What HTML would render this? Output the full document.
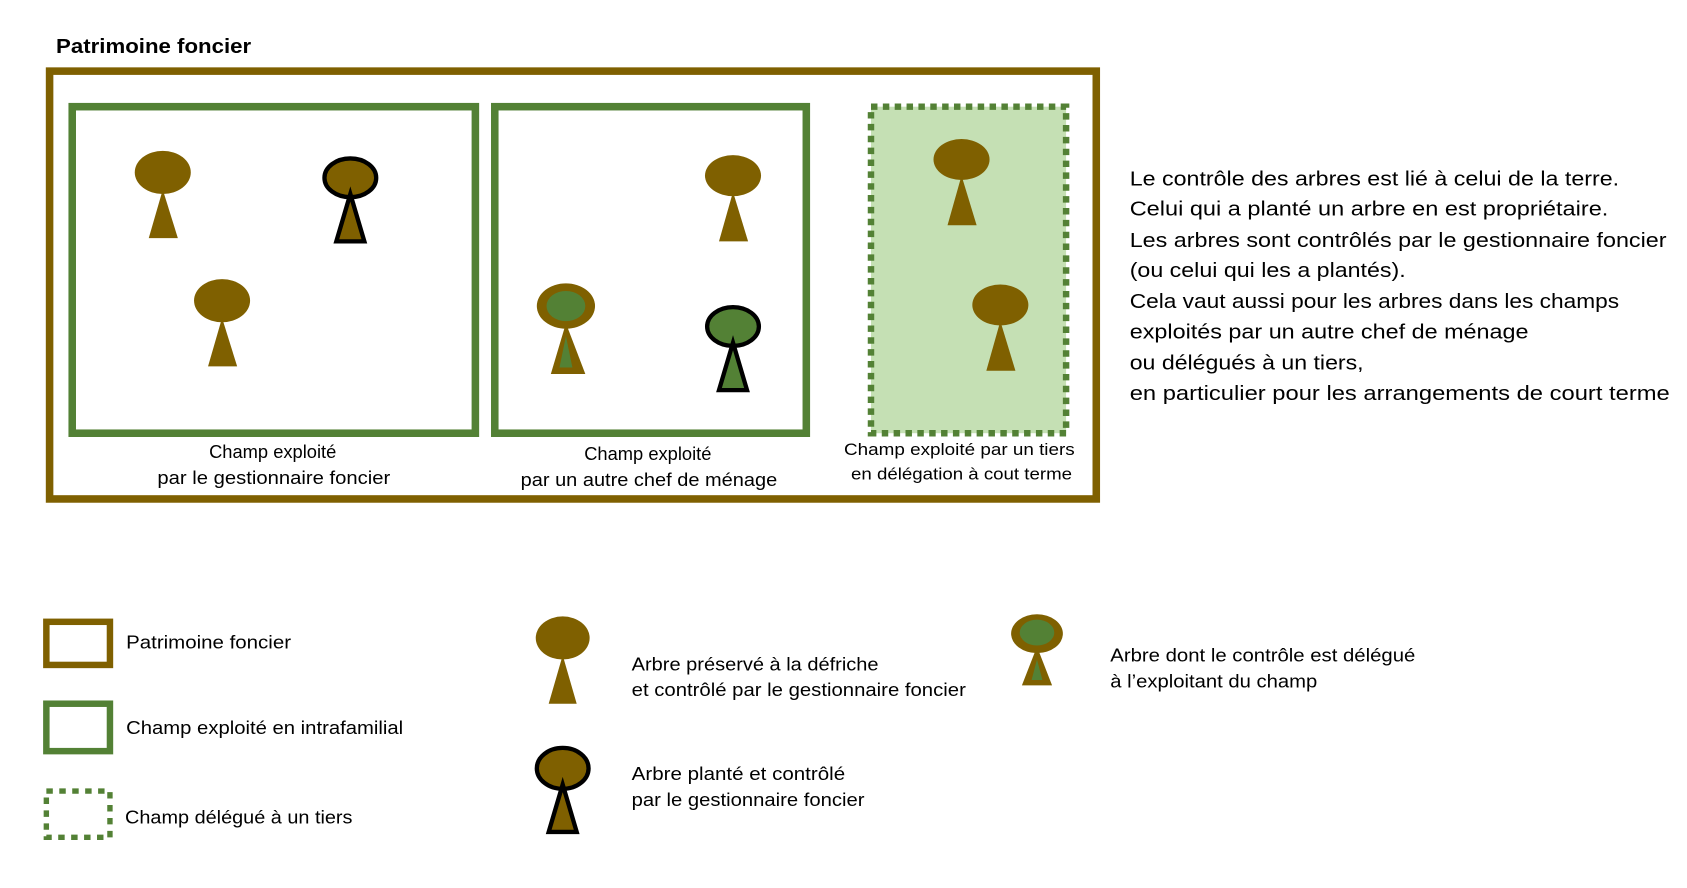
<!DOCTYPE html>
<html><head><meta charset="utf-8"><style>
html,body{margin:0;padding:0;background:#fff;}
svg{display:block;}
text{font-family:"Liberation Sans",sans-serif;fill:#000;}
</style></head><body>
<svg width="1687" height="888" viewBox="0 0 1565 824" preserveAspectRatio="none" xmlns="http://www.w3.org/2000/svg">
<text x="52" y="49" font-size="19" font-weight="bold" textLength="181" lengthAdjust="spacingAndGlyphs">Patrimoine foncier</text>
<rect x="46" y="66" width="971" height="397" fill="none" stroke="#7f6000" stroke-width="7"/>
<rect x="67" y="99" width="374" height="303" fill="none" stroke="#538135" stroke-width="7"/>
<rect x="459" y="99" width="289" height="303" fill="none" stroke="#538135" stroke-width="7"/>
<rect x="808" y="99" width="181" height="303" fill="#c5e0b4" stroke="#538135" stroke-width="6" stroke-dasharray="6,5"/>
<g font-size="17" text-anchor="middle">
<text x="253" y="425">Champ exploité</text>
<text x="254" y="449" textLength="216" lengthAdjust="spacingAndGlyphs">par le gestionnaire foncier</text>
<text x="601" y="427">Champ exploité</text>
<text x="602" y="451" textLength="238" lengthAdjust="spacingAndGlyphs">par un autre chef de ménage</text>
</g>
<g font-size="15.5" text-anchor="middle">
<text x="890" y="422" textLength="214" lengthAdjust="spacingAndGlyphs">Champ exploité  par un tiers</text>
<text x="892" y="445" textLength="205" lengthAdjust="spacingAndGlyphs">en délégation à cout terme</text>
</g>
<g fill="#7f6000">
<!-- plain trees -->
<ellipse cx="151" cy="160" rx="26" ry="20"/><polygon points="151,176 138,221 165,221"/>
<ellipse cx="206" cy="279" rx="26" ry="20"/><polygon points="206,295 193,340 220,340"/>
<ellipse cx="680" cy="163" rx="26" ry="19"/><polygon points="680,178 667,224 694,224"/>
<ellipse cx="892" cy="148" rx="26" ry="19"/><polygon points="892,163 879,209 906,209"/>
<ellipse cx="928" cy="283" rx="26" ry="19"/><polygon points="928,298 915,344 942,344"/>
<ellipse cx="522" cy="592" rx="25" ry="20"/><polygon points="522,608 509,653 535,653"/>
</g>
<!-- black outlined trees -->
<g stroke="#000" stroke-width="4">
<ellipse cx="325" cy="165" rx="24" ry="18" fill="#7f6000"/><polygon points="325,180 312,224 338,224" fill="#7f6000"/>
<ellipse cx="680" cy="303" rx="24" ry="18" fill="#538135"/><polygon points="680,318 667,362 693,362" fill="#538135"/>
<ellipse cx="522" cy="713" rx="24" ry="19" fill="#7f6000"/><polygon points="522,728 509,772 535,772" fill="#7f6000"/>
</g>
<!-- delegated trees -->
<g>
<ellipse cx="525" cy="284" rx="27" ry="21" fill="#7f6000"/><ellipse cx="525" cy="284" rx="18" ry="14" fill="#538135"/>
<polygon points="525,300 511,347 543,347" fill="#7f6000"/><polygon points="525,312 519,341 531,341" fill="#538135"/>
<ellipse cx="962" cy="588" rx="24" ry="18" fill="#7f6000"/><ellipse cx="962" cy="587" rx="16" ry="12" fill="#538135"/>
<polygon points="962,600 948,636 976,636" fill="#7f6000"/><polygon points="962,612 957,631 967,631" fill="#538135"/>
</g>
<g font-size="19">
<text x="1048" y="172" textLength="454" lengthAdjust="spacingAndGlyphs">Le contrôle des arbres est lié à celui de la terre.</text>
<text x="1048" y="200" textLength="444" lengthAdjust="spacingAndGlyphs">Celui qui a planté un arbre en est propriétaire.</text>
<text x="1048" y="229" textLength="498" lengthAdjust="spacingAndGlyphs">Les arbres sont contrôlés par le gestionnaire foncier</text>
<text x="1048" y="257" textLength="256" lengthAdjust="spacingAndGlyphs">(ou celui qui les a plantés).</text>
<text x="1048" y="286" textLength="454" lengthAdjust="spacingAndGlyphs">Cela vaut aussi pour les arbres dans les champs</text>
<text x="1048" y="314" textLength="370" lengthAdjust="spacingAndGlyphs">exploités par un autre chef de ménage</text>
<text x="1048" y="343" textLength="217" lengthAdjust="spacingAndGlyphs">ou délégués à un tiers,</text>
<text x="1048" y="371" textLength="501" lengthAdjust="spacingAndGlyphs">en particulier pour les arrangements de court terme</text>
</g>
<!-- legend -->
<rect x="43" y="577" width="59" height="40" fill="none" stroke="#7f6000" stroke-width="6"/>
<rect x="43" y="653" width="59" height="44" fill="none" stroke="#538135" stroke-width="6"/>
<rect x="43" y="734" width="59" height="43" fill="none" stroke="#538135" stroke-width="5" stroke-dasharray="6,6"/>
<g font-size="17">
<text x="117" y="602" textLength="153" lengthAdjust="spacingAndGlyphs">Patrimoine foncier</text>
<text x="117" y="681" textLength="257" lengthAdjust="spacingAndGlyphs">Champ exploité en intrafamilial</text>
<text x="116" y="764" textLength="211" lengthAdjust="spacingAndGlyphs">Champ délégué à un tiers</text>
<text x="586" y="622" textLength="229" lengthAdjust="spacingAndGlyphs">Arbre préservé à la défriche</text>
<text x="586" y="646" textLength="310" lengthAdjust="spacingAndGlyphs">et contrôlé par le gestionnaire foncier</text>
<text x="586" y="724" textLength="198" lengthAdjust="spacingAndGlyphs">Arbre planté et contrôlé</text>
<text x="586" y="748" textLength="216" lengthAdjust="spacingAndGlyphs">par le gestionnaire foncier</text>
<text x="1030" y="614" textLength="283" lengthAdjust="spacingAndGlyphs">Arbre dont le contrôle est délégué</text>
<text x="1030" y="638" textLength="192" lengthAdjust="spacingAndGlyphs">à l’exploitant du champ</text>
</g>
</svg>
</body></html>
